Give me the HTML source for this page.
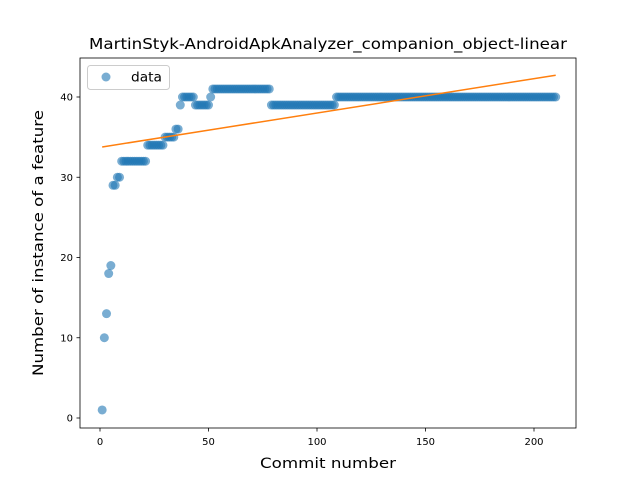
<!DOCTYPE html>
<html><head><meta charset="utf-8"><style>
body{margin:0;background:#fff;}
svg{display:block;font-family:"DejaVu Sans","Liberation Sans",sans-serif;}
</style></head><body>
<svg id="chart" width="640" height="480"></svg>
<script>
const xs=[];const ys=[];
function addRun(a,b,v){for(let i=a;i<=b;i++){xs.push(i);ys.push(v);}}
const runStarts=[1,2,3,4,5,6,8,10,22,30,35,37,38,44,51,52,79,109];
const runEnds=[1,2,3,4,5,7,9,21,29,34,36,37,43,50,51,78,108,210];
const runValues=[1,10,13,18,19,29,30,32,34,35,36,39,40,39,40,41,39,40];
const xTicks=[0,50,100,150,200];
const yTicks=[0,10,20,30,40];
for(let k=0;k<runStarts.length;k++)addRun(runStarts[k],runEnds[k],runValues[k]);
const L=80,R=576,T=58,B=428;
const X=v=>100+(v-0)*(534-100)/200;
const Y=v=>418-v*(418-97)/40;
const NS="http://www.w3.org/2000/svg";
const svg=document.getElementById('chart');
function el(t,a,p){const e=document.createElementNS(NS,t);for(const k in a)e.setAttribute(k,a[k]);(p||svg).appendChild(e);return e;}
let e;
e=el('text',{x:328,y:49,'text-anchor':'middle','font-size':15,textLength:478,lengthAdjust:'spacingAndGlyphs'});e.textContent='MartinStyk-AndroidApkAnalyzer_companion_object-linear';

const g=el('g',{});
for(let i=0;i<xs.length;i++){const c=el('circle',{cx:X(xs[i]),cy:Y(ys[i]),r:4.5,fill:'#1f77b4','fill-opacity':0.6},g);
}
const n=xs.length;let sx=0,sy=0,sxx=0,sxy=0;
for(let i=0;i<n;i++){sx+=xs[i];sy+=ys[i];sxx+=xs[i]*xs[i];sxy+=xs[i]*ys[i];}
const m=(n*sxy-sx*sy)/(n*sxx-sx*sx),b=(sy-m*sx)/n;
const x0=xs[0],x1=xs[n-1];
e=el('line',{x1:X(x0),y1:Y(m*x0+b),x2:X(x1),y2:Y(m*x1+b),stroke:'#ff7f0e','stroke-width':1.5});

e=el('rect',{x:L,y:T,width:R-L,height:B-T,fill:'none',stroke:'#000','stroke-width':0.8});

xTicks.forEach(t=>{el('line',{x1:X(t),x2:X(t),y1:B,y2:B+3.5,stroke:'#000','stroke-width':0.8});
const tx=el('text',{x:X(t),y:B+17,'text-anchor':'middle','font-size':10});tx.textContent=t;
});
yTicks.forEach(t=>{el('line',{x1:L,x2:L-3.5,y1:Y(t),y2:Y(t),stroke:'#000','stroke-width':0.8});
const tx=el('text',{x:L-7,y:Y(t)+3.5,'text-anchor':'end','font-size':10});tx.textContent=t;
});
e=el('text',{x:328,y:468,'text-anchor':'middle','font-size':14,textLength:136,lengthAdjust:'spacingAndGlyphs'});e.textContent='Commit number';

e=el('text',{x:0,y:0,'text-anchor':'middle','font-size':14,textLength:266,lengthAdjust:'spacingAndGlyphs',transform:'translate(43,243) rotate(-90)'});e.textContent='Number of instance of a feature';

const lg=el('g',{});
el('rect',{x:87.5,y:65.5,width:82,height:24,rx:3,fill:'#fff','fill-opacity':0.8,stroke:'#ccc'},lg);
el('circle',{cx:106,cy:77,r:4.5,fill:'#1f77b4','fill-opacity':0.6},lg);
e=el('text',{x:131,y:81.5,'font-size':13,textLength:31,lengthAdjust:'spacingAndGlyphs'},lg);e.textContent='data';

</script>
</body></html>
